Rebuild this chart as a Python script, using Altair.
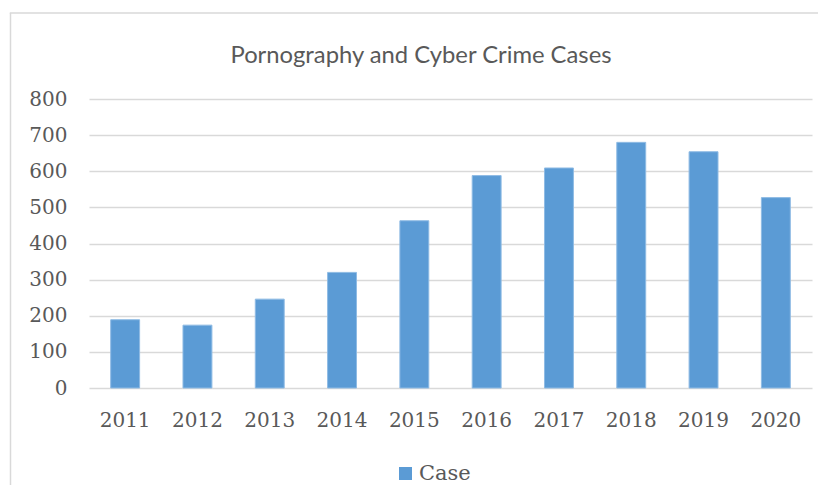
import altair as alt
import pandas as pd

years = ["2011", "2012", "2013", "2014", "2015", "2016", "2017", "2018", "2019", "2020"]
cases = [189, 174, 246, 320, 463, 588, 609, 680, 654, 527]
series = ["Case"] * len(years)
y_ticks = [0, 100, 200, 300, 400, 500, 600, 700, 800]
title_text = "Pornography and Cyber Crime Cases"

df = pd.DataFrame({"year": years, "cases": cases, "series": series})

W, H = 723, 289
GRAY = "#595959"
GRID = "#d9d9d9"

bars = alt.Chart(df).mark_bar(color="#5b9bd5", stroke="#8fbbe4", strokeWidth=1).encode(
    x=alt.X("year:N", sort=years,
            scale=alt.Scale(paddingInner=0.6, paddingOuter=0.3),
            axis=alt.Axis(title=None, labelAngle=0, ticks=False, domain=False,
                          labelFont="DejaVu Serif", labelFontSize=20, labelColor=GRAY,
                          labelPadding=22)),
    y=alt.Y("cases:Q", scale=alt.Scale(domain=[0, 800], nice=False),
            axis=alt.Axis(title=None, values=y_ticks, ticks=False, domain=False,
                          grid=True, gridColor=GRID, gridWidth=1.5,
                          labelFont="DejaVu Serif", labelFontSize=20, labelColor=GRAY,
                          labelPadding=22)),
    color=alt.Color("series:N", scale=alt.Scale(range=["#5b9bd5"]),
                    legend=alt.Legend(title=None, orient="none", legendX=306, legendY=364,
                                      symbolType="square", symbolSize=169,
                                      symbolStrokeWidth=0, padding=0,
                                      labelFont="DejaVu Serif", labelFontSize=21,
                                      labelColor=GRAY, labelOffset=3)),
)

title = alt.Chart(pd.DataFrame({"t": [title_text]})).mark_text(
    font="Lato", fontSize=23.8, color=GRAY, align="center", baseline="alphabetic"
).encode(x=alt.value(332), y=alt.value(-36), text="t:N")

frame = pd.DataFrame({"a": [0]})
left_edge = alt.Chart(frame).mark_rule(color=GRID, strokeWidth=1.5).encode(
    x=alt.value(-78.5), y=alt.value(-86), y2=alt.value(400))
top_edge = alt.Chart(frame).mark_rule(color=GRID, strokeWidth=1.5).encode(
    x=alt.value(-79.2), x2=alt.value(760), y=alt.value(-86))

chart = alt.layer(left_edge, top_edge, bars, title).properties(
    width=W, height=H,
    autosize=alt.AutoSizeParams(type="none"),
    padding={"left": 81, "top": 91, "right": 6, "bottom": 97},
).configure_view(stroke=None).configure_legend(
    labelFont="DejaVu Serif", labelFontSize=21, labelColor=GRAY
)

chart.save("out.html", embed_options={"renderer": "svg", "actions": False})
